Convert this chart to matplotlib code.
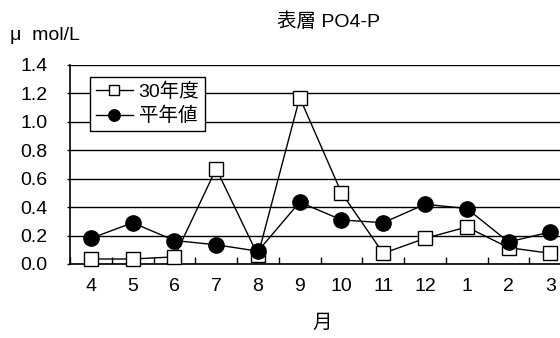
import numpy as np
import matplotlib.pyplot as plt
from matplotlib.ticker import FixedLocator

plt.rcParams['font.family'] = ['Liberation Sans', 'Noto Sans CJK JP']

# monthly surface PO4-P (umol/L), fiscal year order April -> March
months = ['4', '5', '6', '7', '8', '9', '10', '11', '12', '1', '2', '3']
fy30 = [0.035, 0.035, 0.05, 0.67, 0.06, 1.17, 0.50, 0.075, 0.18, 0.26, 0.115, 0.075]
normal = [0.18, 0.29, 0.165, 0.135, 0.09, 0.435, 0.31, 0.29, 0.42, 0.39, 0.155, 0.225]

FS = 14

fig = plt.figure(figsize=(5.6, 3.38), dpi=100)
ax = fig.add_axes([0.125, 0.219, 0.895, 0.589])

x = np.arange(len(months))
ax.plot(x, fy30, color='black', lw=1, marker='s', ms=10,
        mfc='white', mec='black', mew=1, label='30年度', zorder=3, clip_on=False)
ax.plot(x, normal, color='black', lw=1, marker='o', ms=11,
        mfc='black', mec='black', label='平年値', zorder=4, clip_on=False)

ax.set_xlim(-0.5, len(months) - 0.5)
ax.set_ylim(0, 1.4)
yt = np.arange(0, 1.41, 0.2)
ax.set_yticks(yt)
ax.set_yticklabels(['%.1f' % v for v in yt], fontsize=FS)
ax.set_xticks(x)
ax.set_xticklabels(months, fontsize=FS)
ax.xaxis.set_minor_locator(FixedLocator(np.arange(-0.5, len(months), 1.0)))
ax.tick_params(axis='x', which='major', length=0, pad=10)
ax.tick_params(axis='x', which='minor', direction='in', length=5, width=1)
ax.tick_params(axis='y', direction='out', length=2, width=1, pad=14)

ax.grid(axis='y', color='black', lw=1)
ax.set_axisbelow(True)
for s in ['top', 'right']:
    ax.spines[s].set_visible(False)
ax.spines['left'].set_linewidth(1.2)
ax.spines['bottom'].set_linewidth(1.2)

leg = ax.legend(loc='upper left', bbox_to_anchor=(0.04, 0.94), fontsize=FS,
                frameon=True, fancybox=False, edgecolor='black',
                framealpha=1, borderpad=0.3, handlelength=1.9,
                handletextpad=0.3, labelspacing=0.3, markerscale=0.75,
                borderaxespad=0)
leg.get_frame().set_linewidth(1)

fig.text(0.586, 0.935, '表層 PO4-P', ha='center', va='center', fontsize=FS)
fig.text(0.018, 0.895, 'μ  mol/L', ha='left', va='center', fontsize=FS)
fig.text(0.575, 0.045, '月', ha='center', va='center', fontsize=FS)

fig.savefig('out.png', dpi=100)
